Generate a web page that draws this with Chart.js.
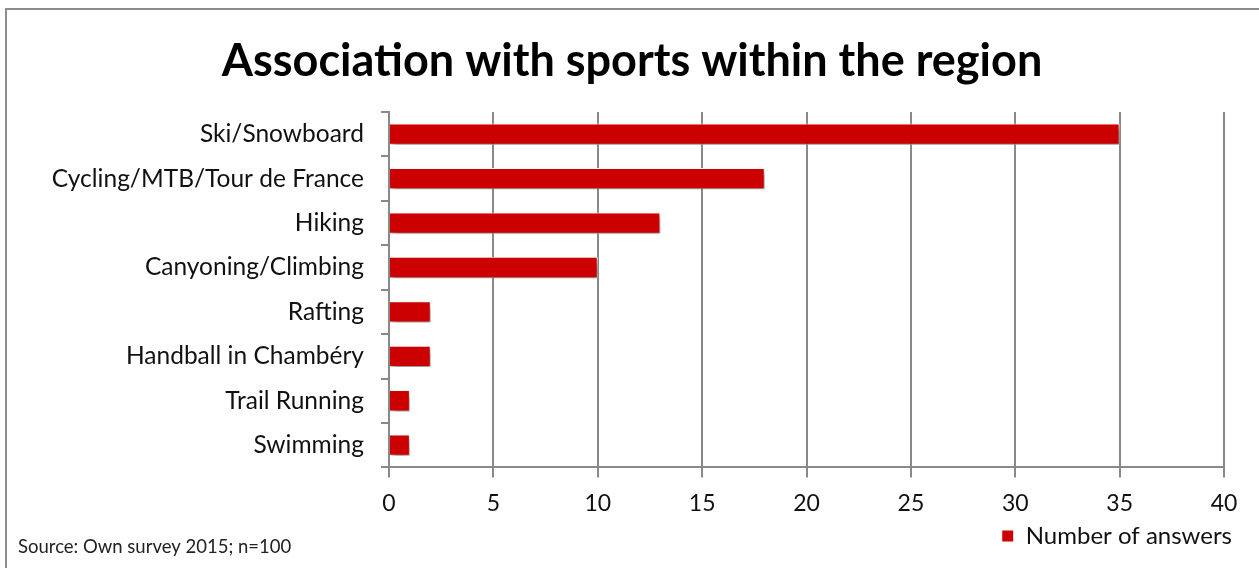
<!DOCTYPE html>
<html>
<head>
<meta charset="utf-8">
<script src="https://cdn.jsdelivr.net/npm/chart.js@4/dist/chart.umd.min.js"></script>
<style>
    html, body { margin: 0; padding: 0; background: #fff; overflow: hidden; }
    #frame { position: absolute; left: 5px; top: 8px; width: 1300px; height: 620px; border: 2px solid #8c8c8c; box-sizing: border-box; }
    #wrap { position: absolute; left: 0; top: 0; width: 1259px; height: 568px; }
</style>
</head>
<body>
<div id="frame"></div>
<div id="wrap"><canvas id="sportsChart"></canvas></div>
<script>
const sports = ['Ski/Snowboard', 'Cycling/MTB/Tour de France', 'Hiking', 'Canyoning/Climbing',
    'Rafting', 'Handball in Chambéry', 'Trail Running', 'Swimming'];
const answers = [35, 18, 13, 10, 2, 2, 1, 1];
const xTicks = [0, 5, 10, 15, 20, 25, 30, 35, 40];

const FONT = 'Lato, "Open Sans", sans-serif';
const GRID = '#898989';

// drop shadow under the bars, like the Excel original
const barShadow = {
    id: 'barShadow',
    beforeDatasetsDraw(chart) {
        const ctx = chart.ctx;
        ctx.save();
        ctx.shadowColor = 'rgba(0,0,0,0.45)';
        ctx.shadowBlur = 6;
        ctx.shadowOffsetX = 2;
        ctx.shadowOffsetY = 4;
    },
    afterDatasetsDraw(chart) {
        chart.ctx.restore();
    }
};

// title is centred on the whole frame, legend hangs a bit lower-right
const boxNudge = {
    id: 'boxNudge',
    afterLayout(chart) {
        chart.titleBlock.left += 20;
        chart.titleBlock.right += 20;
        chart.legend.left += 13;
        chart.legend.right += 13;
        chart.legend.top -= 10;
        chart.legend.bottom -= 10;
    }
};

// source note, bottom left
const sourceNote = {
    id: 'sourceNote',
    afterDraw(chart) {
        const ctx = chart.ctx;
        ctx.save();
        ctx.font = '18.5px ' + FONT;
        ctx.fillStyle = '#222';
        ctx.textBaseline = 'middle';
        ctx.textAlign = 'left';
        ctx.fillText('Source: Own survey 2015; n=100', 18, 547);
        ctx.restore();
    }
};

new Chart(document.getElementById('sportsChart'), {
    type: 'bar',
    data: {
        labels: sports,
        datasets: [{
            label: 'Number of answers',
            data: answers,
            backgroundColor: '#cc0000',
            borderColor: '#ffffff',
            borderWidth: 1,
            barPercentage: 0.48,
            categoryPercentage: 1
        }]
    },
    options: {
        indexAxis: 'y',
        responsive: true,
        maintainAspectRatio: false,
        animation: false,
        layout: { padding: { left: 0, right: 35, top: 0, bottom: 0 } },
        scales: {
            x: {
                min: 0,
                max: 40,
                afterBuildTicks: axis => { axis.ticks = xTicks.map(v => ({ value: v })); },
                grid: { color: GRID, lineWidth: 2, tickLength: 10, tickColor: GRID },
                border: { color: GRID, width: 2 },
                ticks: { color: '#111', font: { family: FONT, size: 23 }, padding: 12 }
            },
            y: {
                afterFit: axis => { axis.width = 389; },
                grid: { drawOnChartArea: false, offset: true, color: GRID, lineWidth: 2, tickLength: 8 },
                border: { color: GRID, width: 2 },
                ticks: { color: '#111', font: { family: FONT, size: 24.5 }, padding: 17 }
            }
        },
        plugins: {
            title: {
                display: true,
                text: 'Association with sports within the region',
                color: '#000',
                font: { family: FONT, size: 45, weight: 'bold' },
                padding: { top: 34, bottom: 24 }
            },
            legend: {
                position: 'bottom',
                align: 'end',
                labels: {
                    color: '#111',
                    font: { family: FONT, size: 24 },
                    boxWidth: 12,
                    boxHeight: 12,
                    padding: 5
                }
            },
            tooltip: { enabled: false }
        }
    },
    plugins: [barShadow, boxNudge, sourceNote]
});
</script>
</body>
</html>
